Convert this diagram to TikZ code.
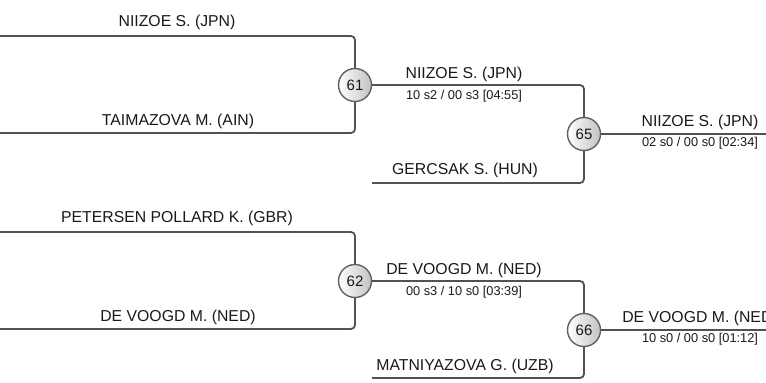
\documentclass[tikz,border=0pt]{standalone}
\usepackage{fontspec}
\setmainfont{Liberation Sans}
\begin{document}
\begin{tikzpicture}[x=1pt,y=-1pt,
  wire/.style={draw=black!68, line width=1.8pt, rounded corners=4pt},
  pool/.style={circle, draw=black!62, line width=1.4pt, minimum size=33pt, inner sep=0pt,
    left color=white, right color=black!24, font=\fontsize{15}{15}\selectfont, text=black!90},
  athlete/.style={anchor=base, inner sep=0pt, font=\fontsize{15.8}{16}\selectfont, text=black!90},
  result/.style={anchor=base, inner sep=0pt, font=\fontsize{12.8}{13}\selectfont, text=black!90}]
\useasboundingbox (0,0) rectangle (766,383);
\clip (0,0) rectangle (766,383);

% pool circles
\node[pool] (m61) at (355,85) {61};
\node[pool] (m65) at (584,134) {65};
\node[pool] (m62) at (355,281) {62};
\node[pool] (m66) at (584,330) {66};

% free ends
\coordinate (a1) at (-2,36);
\coordinate (a2) at (-2,133);
\coordinate (g1) at (372,183);
\coordinate (f65) at (770,134);
\coordinate (b1) at (-2,232);
\coordinate (b2) at (-2,329);
\coordinate (h1) at (372,378);
\coordinate (f66) at (770,330);

% connectors
\draw[wire] (a1) -| (m61);
\draw[wire] (a2) -| (m61);
\draw[wire] (m61) -| (m65);
\draw[wire] (g1) -| (m65);
\draw[wire] (m65) -- (f65);
\draw[wire] (b1) -| (m62);
\draw[wire] (b2) -| (m62);
\draw[wire] (m62) -| (m66);
\draw[wire] (h1) -| (m66);
\draw[wire] (m66) -- (f66);

% names, top half
\node[athlete] (n1) at (177,26) {NIIZOE S. (JPN)};
\node[athlete] (n2) at (178,125) {TAIMAZOVA M. (AIN)};
\node[athlete] (n3) at (464,78) {NIIZOE S. (JPN)};
\node[result] (s3) at (464,99) {10 s2 / 00 s3 [04:55]};
\node[athlete] (n4) at (465,174) {GERCSAK S. (HUN)};
\node[athlete] (n5) at (700,126) {NIIZOE S. (JPN)};
\node[result] (s5) at (700,146) {02 s0 / 00 s0 [02:34]};

% names, bottom half
\node[athlete] (n6) at (177,222) {PETERSEN POLLARD K. (GBR)};
\node[athlete] (n7) at (178,321) {DE VOOGD M. (NED)};
\node[athlete] (n8) at (464,274) {DE VOOGD M. (NED)};
\node[result] (s8) at (464,295) {00 s3 / 10 s0 [03:39]};
\node[athlete] (n9) at (465,370) {MATNIYAZOVA G. (UZB)};
\node[athlete] (n10) at (700,322) {DE VOOGD M. (NED)};
\node[result] (s10) at (700,342) {10 s0 / 00 s0 [01:12]};
\end{tikzpicture}
\end{document}
